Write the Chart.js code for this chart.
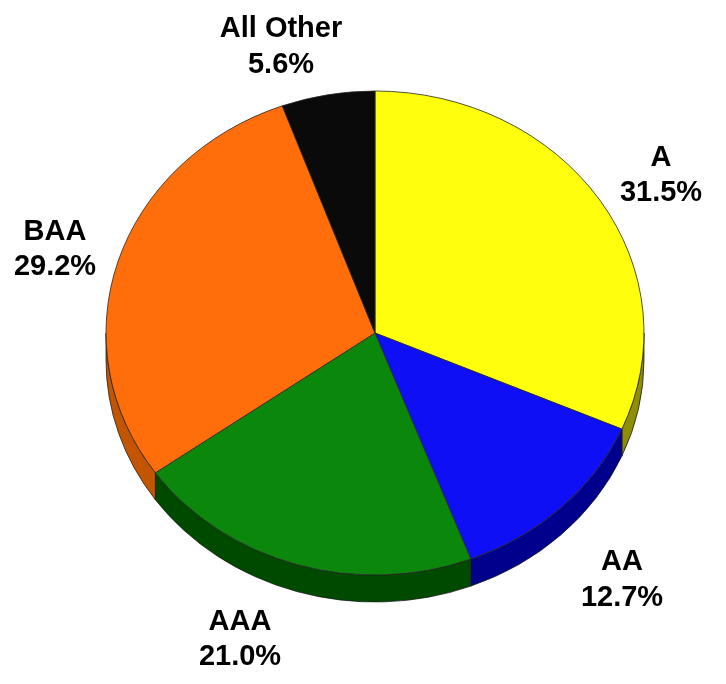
<!DOCTYPE html>
<html>
<head>
<meta charset="utf-8">
<script src="https://cdn.jsdelivr.net/npm/chart.js@4.4.1/dist/chart.umd.min.js"></script>
<style>
  html, body { margin: 0; padding: 0; background: #ffffff; }
  #wrap { width: 726px; height: 684px; position: relative; }
</style>
</head>
<body>
<div id="wrap"><canvas id="c" width="726" height="684"></canvas></div>
<script>
// ---- data ----
const categories = ['A', 'AA', 'AAA', 'BAA', 'All Other'];
const shares = [31.5, 12.7, 21.0, 29.2, 5.6];

// ---- styles ----
const topColors  = ['#FFFF0D', '#0F0FF5', '#0B870B', '#FF6E0A', '#0A0A0A'];
const sideColors = ['#8E8E08', '#00008C', '#004A00', '#C45500', '#000000'];
// text anchors: [centerX, baseline of first line, baseline of second line]
const labelAnchors = [[661, 166, 201], [622, 570, 606], [240, 630, 665], [55, 240, 275], [281, 37, 73]];

const TILT = 242 / 269;   // vertical squash of the pie face
const DEPTH = 27;         // thickness of the pie in screen pixels

const tiltPlugin = {
  id: 'tilt3d',
  beforeDatasetsDraw(chart) {
    const ctx = chart.ctx;
    const meta = chart.getDatasetMeta(0);
    if (!meta.data.length) return;
    const cx = meta.data[0].x, cy = meta.data[0].y;
    ctx.save();
    ctx.translate(cx, cy);
    ctx.scale(1, TILT);
    ctx.translate(-cx, -cy);
    const d = DEPTH / TILT;
    meta.data.forEach((arc, i) => {
      const p = arc.getProps(['startAngle', 'endAngle', 'outerRadius', 'x', 'y'], true);
      const lo = Math.max(p.startAngle, 0);
      const hi = Math.min(p.endAngle, Math.PI);
      if (hi <= lo) return;
      ctx.beginPath();
      ctx.arc(p.x, p.y, p.outerRadius, lo, hi, false);
      ctx.arc(p.x, p.y + d, p.outerRadius, hi, lo, true);
      ctx.closePath();
      ctx.fillStyle = sideColors[i];
      ctx.fill();
      ctx.lineWidth = 1;
      ctx.strokeStyle = 'rgba(20,20,20,0.8)';
      ctx.stroke();
    });
  },
  afterDatasetsDraw(chart) {
    chart.ctx.restore();
  },
  afterDraw(chart) {
    const ctx = chart.ctx;
    ctx.save();
    ctx.fillStyle = '#000000';
    ctx.textAlign = 'center';
    ctx.textBaseline = 'alphabetic';
    ctx.font = 'bold 29px "Liberation Sans", Arial, sans-serif';
    categories.forEach((name, i) => {
      const a = labelAnchors[i];
      ctx.fillText(name, a[0], a[1]);
      ctx.fillText(shares[i].toFixed(1) + '%', a[0], a[2]);
    });
    ctx.restore();
  }
};

new Chart(document.getElementById('c'), {
  type: 'pie',
  data: {
    labels: categories,
    datasets: [{
      data: shares,
      backgroundColor: topColors,
      borderColor: 'rgba(40,40,40,0.85)',
      borderWidth: 1,
      hoverOffset: 0,
      clip: false
    }]
  },
  options: {
    responsive: false,
    animation: false,
    events: [],
    layout: { padding: { left: 105.5, right: 81.5, top: 63.5, bottom: 81.5 } },
    plugins: {
      legend: { display: false },
      tooltip: { enabled: false },
      title: { display: false }
    }
  },
  plugins: [tiltPlugin]
});
</script>
</body>
</html>
